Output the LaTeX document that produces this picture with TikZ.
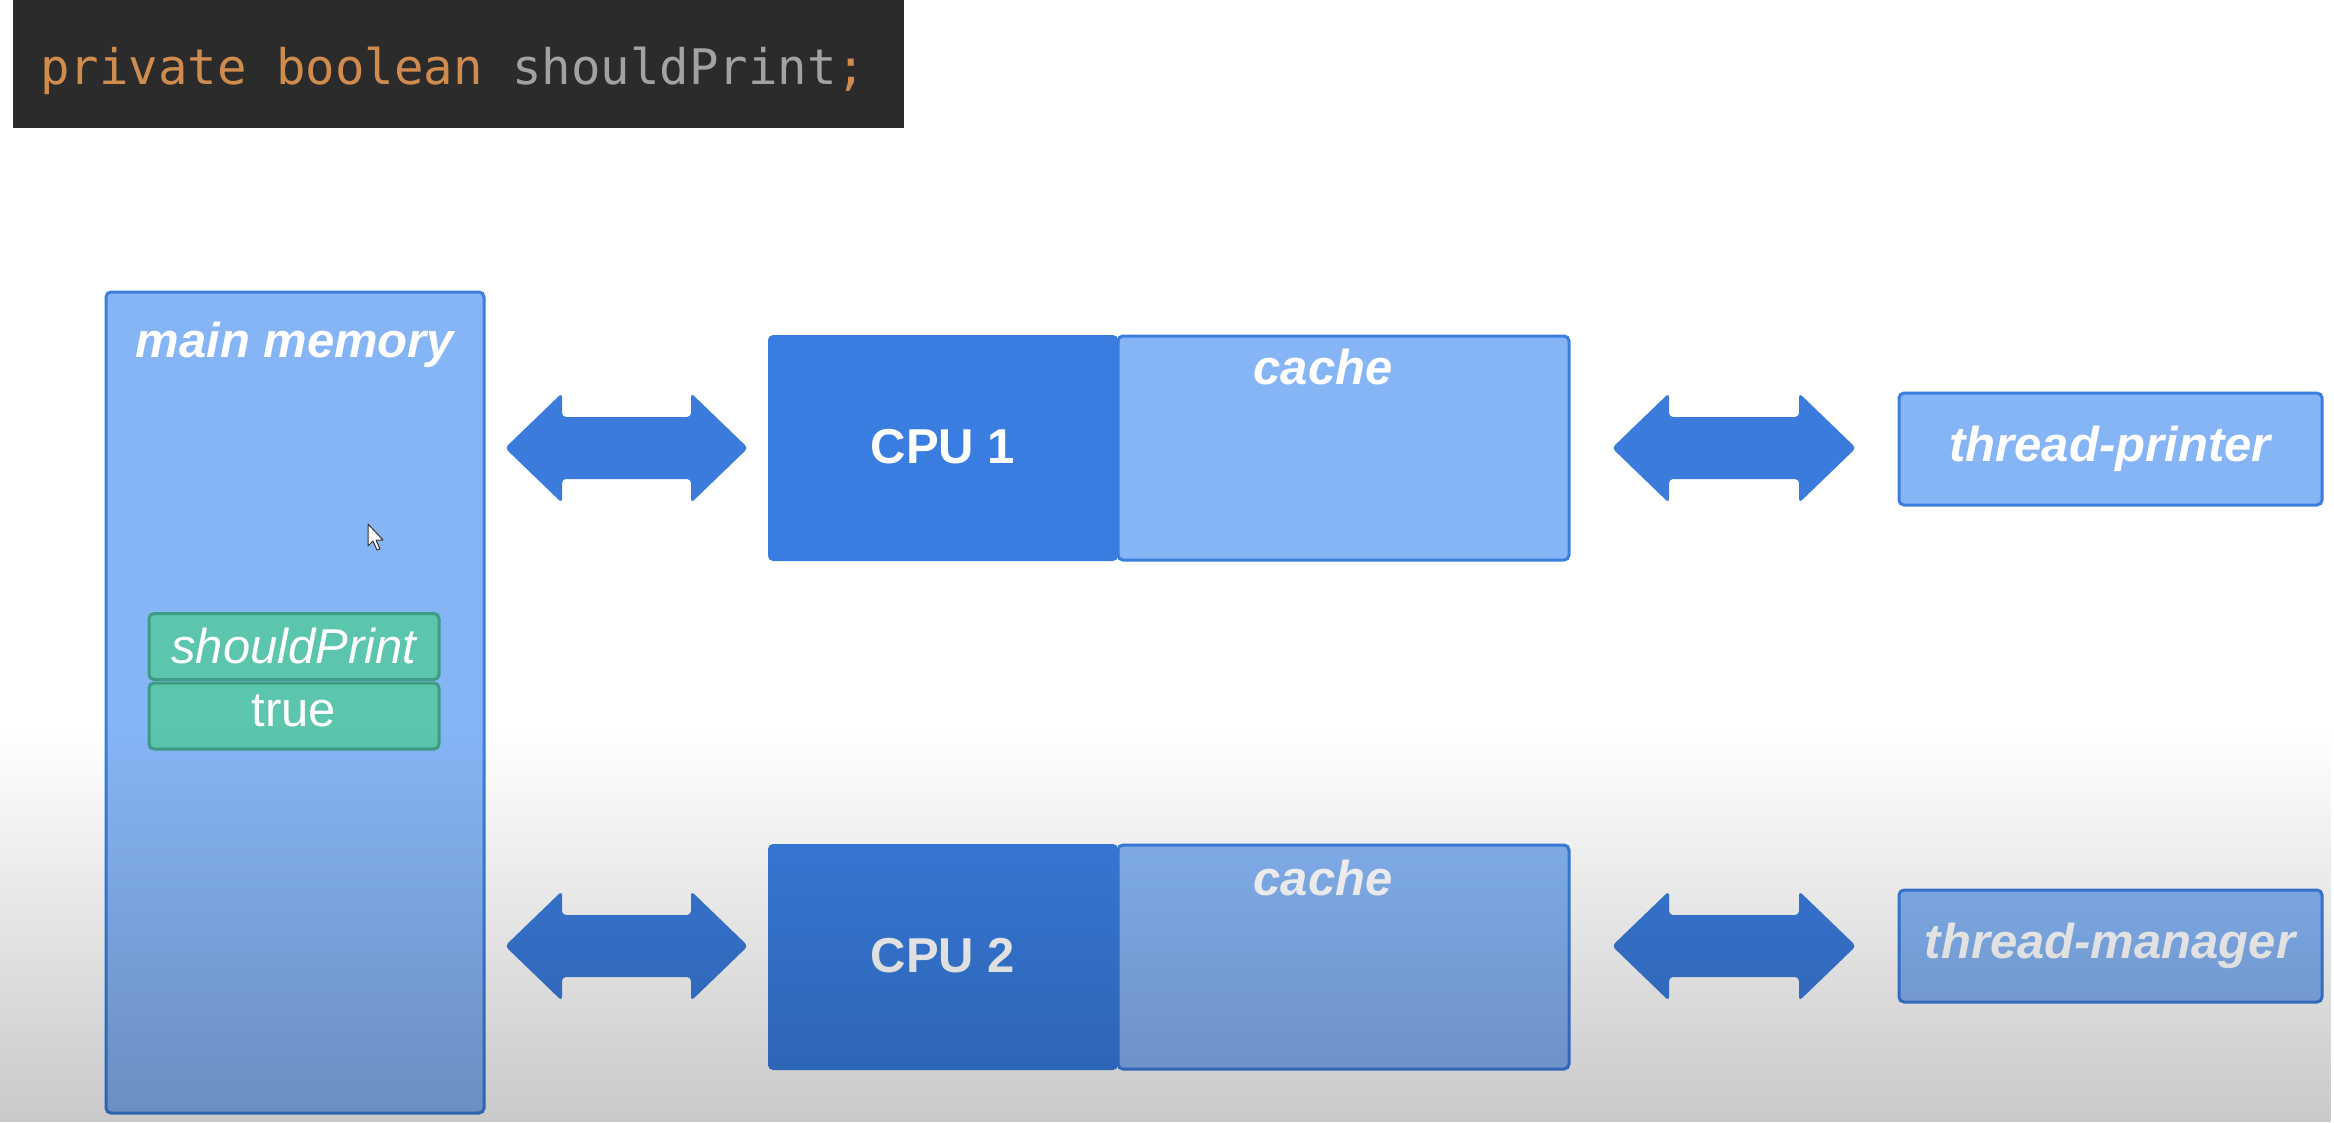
\documentclass[tikz,border=0pt]{standalone}
\usepackage{fontspec}
\setmainfont{Liberation Sans}
\newfontfamily\codefont{DejaVu Sans Mono}
\usetikzlibrary{fadings}
\definecolor{memfill}{HTML}{86B5F5}
\definecolor{bordblue}{HTML}{3B7EDF}
\definecolor{cpublue}{HTML}{397DE0}
\definecolor{arrblue}{HTML}{3A7BDC}
\definecolor{grfill}{HTML}{5BC5AE}
\definecolor{grbord}{HTML}{3D9C83}
\definecolor{codebg}{HTML}{2B2B2B}
\definecolor{codeor}{HTML}{D08C4E}
\definecolor{codegr}{HTML}{A2A2A2}
\tikzfading[name=bottomdark, top color=transparent!100, bottom color=transparent!0]
\tikzset{
  bigfont/.style={font=\fontsize{49}{58}\selectfont},
  lightbox/.style={draw=bordblue, fill=memfill, line width=3pt, rounded corners=5pt, inner sep=0pt},
  cpubox/.style={fill=cpublue, rounded corners=5pt, inner sep=0pt},
  greenbox/.style={draw=grbord, fill=grfill, line width=3pt, rounded corners=5pt, inner sep=0pt, minimum width=290, minimum height=66},
  lbl/.style={bigfont, text=white, inner sep=0pt, anchor=base},
  blbl/.style={lbl, font=\fontsize{49}{58}\selectfont\bfseries\itshape},
  dblarr/.style={fill=arrblue, rounded corners=4pt},
}
% double arrow between two x positions (in pt) at centre y
\newcommand{\mydblarrow}[3]{%
  \fill[dblarr] (#1,#3) -- (#1+57,#3-55) -- (#1+57,#3-31) -- (#2-57,#3-31) -- (#2-57,#3-55)
    -- (#2,#3) -- (#2-57,#3+55) -- (#2-57,#3+31) -- (#1+57,#3+31) -- (#1+57,#3+55) -- cycle;}
\begin{document}
\begin{tikzpicture}[x=1pt, y=-1pt]
\useasboundingbox (0,0) rectangle (2334,1122);
\fill[white] (0,0) rectangle (2334,1122);

% code line
\node[fill=codebg, minimum width=891, minimum height=128, inner sep=0pt] (codebox) at (458.5,64) {};
\node[anchor=base west, inner sep=0pt] (code) at (40,84)
  {\codefont\fontsize{49}{58}\selectfont\textcolor{codeor}{private boolean} \textcolor{codegr}{shouldPrint}\textcolor{codeor}{;}};

% main memory
\node[lightbox, minimum width=378, minimum height=821] (mm) at (295,702.5) {};
\node[blbl] (mmt) at (295,357) {main memory};
\node[greenbox] (sp) at (294,646.5) {};
\node[lbl, font=\fontsize{49}{58}\selectfont\itshape] (spt) at (294,663) {shouldPrint};
\node[greenbox] (tv) at (294,716) {};
\node[lbl, font=\fontsize{49}{58}\selectfont] (tvt) at (294,726) {true};

% mouse cursor
\draw[fill=white, draw=black!80, line width=1pt, line join=round] (368,524) -- (368,546) -- (373,541) -- (377,550) -- (380,549) -- (376,540) -- (383,540) -- cycle;

% CPU 1 + cache
\node[lightbox, minimum width=451, minimum height=224] (c1) at (1343.5,448) {};
\node[cpubox, minimum width=350, minimum height=226] (cpu1) at (943,448) {};
\node[lbl, font=\fontsize{49}{58}\selectfont\bfseries] (cpu1t) at (cpu1.center) [yshift=-15pt] {CPU 1};
\node[blbl] (c1t) at (1323,384) {cache};

% CPU 2 + cache
\node[lightbox, minimum width=451, minimum height=224] (c2) at (1343.5,957) {};
\node[cpubox, minimum width=350, minimum height=226] (cpu2) at (943,957) {};
\node[lbl, font=\fontsize{49}{58}\selectfont\bfseries] (cpu2t) at (cpu2.center) [yshift=-15pt] {CPU 2};
\node[blbl] (c2t) at (1323,895) {cache};

% threads
\node[lightbox, minimum width=423, minimum height=112] (tp) at (2110.5,449) {};
\node[blbl] (tpt) at (2110,461) {thread-printer};
\node[lightbox, minimum width=423, minimum height=112] (tm) at (2110.5,946) {};
\node[blbl] (tmt) at (2110,958) {thread-manager};

% arrows
\mydblarrow{505}{748}{448}
\mydblarrow{1612}{1856}{448}
\mydblarrow{505}{748}{946}
\mydblarrow{1612}{1856}{946}

% bottom darkening
\fill[black, fill opacity=0.21, path fading=bottomdark] (0,730) rectangle (2334,1122);
\end{tikzpicture}
\end{document}
